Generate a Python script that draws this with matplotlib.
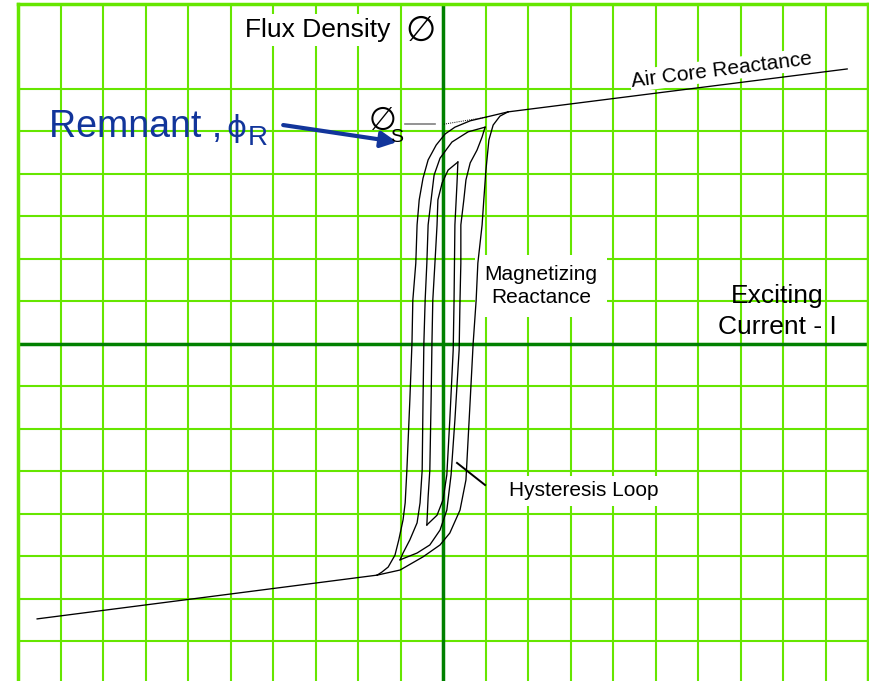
import numpy as np
import matplotlib
matplotlib.use("Agg")
import matplotlib.pyplot as plt

plt.rcParams['font.family'] = ['Liberation Sans', 'DejaVu Sans']

# air core reactance (saturated part), upper and lower end
air_hi_x = [1.53, 9.51]
air_hi_y = [5.45, 6.46]
air_lo_x = [-9.55, -1.55]
air_lo_y = [-6.48, -5.45]

# dotted projection back to the flux axis (phi_s)
proj_x = [0.02, 1.04]
proj_y = [5.16, 5.33]

# major loop, descending and ascending branch
outer_dn_x = [1.53, 1.11, 0.64, 0.28, 0.05, -0.16, -0.35, -0.47, -0.56, -0.61, -0.64,
              -0.71, -0.73, -0.78, -0.85, -0.89, -0.94, -1.04, -1.13, -1.29, -1.44, -1.55]
outer_dn_y = [5.45, 5.35, 5.24, 5.09, 4.93, 4.67, 4.32, 3.89, 3.38, 2.79, 1.89,
              1.02, 0.01, -1.33, -2.98, -3.75, -4.15, -4.62, -4.98, -5.26, -5.38, -5.45]
outer_up_x = [-1.55, -1.01, -0.47, -0.07, 0.16, 0.40, 0.54, 0.59, 0.64, 0.71, 0.78,
              0.82, 0.92, 0.96, 1.01, 1.08, 1.18, 1.34, 1.53]
outer_up_y = [-5.45, -5.33, -5.02, -4.74, -4.46, -3.92, -3.21, -2.27, -1.33, 0.01, 1.02,
              1.89, 2.79, 3.38, 4.08, 4.79, 5.14, 5.35, 5.45]

# middle minor loop
mid_dn_x = [0.99, 0.59, 0.21, -0.07, -0.21, -0.28, -0.35, -0.38, -0.42, -0.45, -0.47,
            -0.49, -0.54, -0.61, -0.78, -0.94, -1.01]
mid_dn_y = [5.09, 4.98, 4.74, 4.36, 3.96, 3.38, 2.79, 1.89, 1.02, 0.01, -1.33,
            -2.98, -3.75, -4.22, -4.62, -4.93, -5.09]
mid_up_x = [-1.01, -0.61, -0.31, -0.07, 0.09, 0.19, 0.28, 0.38, 0.40, 0.42, 0.42,
            0.49, 0.54, 0.64, 0.80, 0.92, 0.99]
mid_up_y = [-5.09, -4.93, -4.74, -4.39, -3.92, -3.09, -1.80, -0.15, 1.02, 1.89, 2.79,
            3.38, 3.85, 4.25, 4.55, 4.86, 5.09]

# inner minor loop
inner_dn_x = [0.35, 0.12, -0.02, -0.12, -0.14, -0.19, -0.24, -0.26, -0.28, -0.31, -0.35, -0.38]
inner_dn_y = [4.27, 4.08, 3.78, 3.38, 2.79, 1.89, 1.02, 0.01, -1.33, -2.98, -3.61, -4.27]
inner_up_x = [-0.38, -0.14, 0.00, 0.09, 0.16, 0.24, 0.26, 0.28, 0.31, 0.33, 0.35]
inner_up_y = [-4.27, -4.04, -3.68, -3.09, -1.80, -0.15, 1.02, 2.79, 3.38, 3.78, 4.27]

grid_green = '#66e600'
axis_green = '#008000'
blue = '#12359b'

fig = plt.figure(figsize=(8.69, 6.81), dpi=100)
ax = fig.add_axes([18 / 869, -2.5 / 681, 850 / 869, 680 / 681])
ax.set_xlim(-10, 10)
ax.set_ylim(-8, 8)

# graph paper
ax.set_xticks(np.arange(-9, 10))
ax.set_yticks(np.arange(-7, 7))
ax.grid(True, color=grid_green, lw=1.5)
ax.tick_params(length=0, labelbottom=False, labelleft=False)
for side in ['left', 'top', 'right']:
    ax.spines[side].set_color(grid_green)
    ax.spines[side].set_linewidth(2.5)
ax.spines['bottom'].set_visible(False)
ax.axhline(0, color=axis_green, lw=2.5, zorder=2)
ax.axvline(0, color=axis_green, lw=2.5, zorder=2)

# curves
for bx, by in [(air_hi_x, air_hi_y), (air_lo_x, air_lo_y),
               (outer_dn_x, outer_dn_y), (outer_up_x, outer_up_y),
               (mid_dn_x, mid_dn_y), (mid_up_x, mid_up_y),
               (inner_dn_x, inner_dn_y), (inner_up_x, inner_up_y)]:
    ax.plot(bx, by, color='black', lw=0.95, zorder=4)
ax.plot(proj_x, proj_y, color='black', lw=0.7, ls=(0, (1, 1.2)), zorder=4)

# labels
white = dict(facecolor='white', edgecolor='none', pad=3)
ax.text(-2.94, 7.38, 'Flux Density', fontsize=19, ha='center', va='center', bbox=white, zorder=3)
ax.text(-0.52, 7.35, '\u2205', fontsize=25, ha='center', va='center',
        family=['DejaVu Sans'], zorder=3)

ax.text(-9.27, 4.86, 'Remnant ,', fontsize=27, color=blue, ha='left', va='baseline', zorder=3)
ax.text(-4.85, 5.07, '\u03d5', fontsize=22, color=blue, ha='center', va='center',
        family=['DejaVu Sans'], zorder=3)
ax.text(-4.59, 4.67, 'R', fontsize=20, color=blue, ha='left', va='baseline', zorder=3)
ax.annotate('', xy=(-1.08, 4.74), xytext=(-3.76, 5.14),
            arrowprops=dict(arrowstyle='-|>', lw=3, color=blue, mutation_scale=24,
                            shrinkA=0, shrinkB=0), zorder=5)

ax.text(-1.43, 5.22, '\u2205', fontsize=23, ha='center', va='center',
        family=['DejaVu Sans'], zorder=5)
ax.text(-1.08, 4.84, 'S', fontsize=14, ha='center', va='center', zorder=5)
ax.plot([-0.89, -0.19], [5.16, 5.16], color='#808080', lw=1.2, zorder=4)

ax.text(6.56, 6.44, 'Air Core Reactance', fontsize=15, rotation=7.2, rotation_mode='anchor',
        ha='center', va='center', bbox=dict(facecolor='white', edgecolor='none', pad=1), zorder=3)
ax.text(2.31, 1.35, 'Magnetizing\nReactance', fontsize=15, ha='center', va='center',
        multialignment='center', linespacing=1.3,
        bbox=dict(facecolor='white', edgecolor='none', pad=7), zorder=3)
ax.text(7.86, 0.75, 'Exciting\nCurrent - I', fontsize=19, ha='center', va='center',
        multialignment='center', linespacing=1.4, zorder=3)
ax.text(3.32, -3.47, 'Hysteresis Loop', fontsize=15, ha='center', va='center',
        bbox=dict(facecolor='white', edgecolor='none', pad=4), zorder=3)
ax.plot([0.33, 0.99], [-2.81, -3.33], color='black', lw=1.4, zorder=4)

fig.savefig('out.png', dpi=100)
